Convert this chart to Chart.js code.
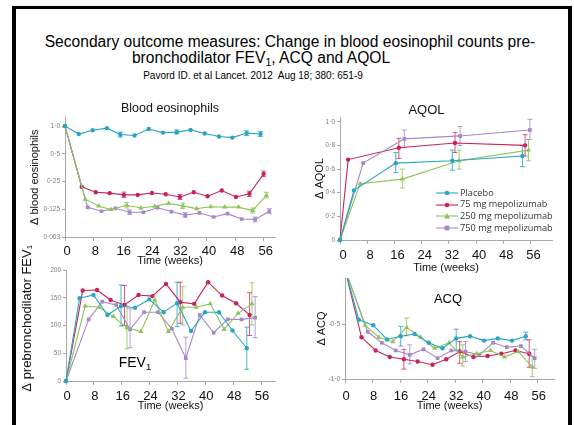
<!DOCTYPE html>
<html><head><meta charset="utf-8">
<script src="https://cdn.jsdelivr.net/npm/chart.js@4.4.1/dist/chart.umd.min.js"></script>
<style>
html,body{margin:0;padding:0;background:#fff;}
body{width:574px;height:425px;position:relative;overflow:hidden;font-family:"Liberation Sans",Arial,sans-serif;}
#frame{position:absolute;left:12px;top:6px;width:552px;height:440px;border-left:4px solid #000;border-top:3px solid #000;border-right:4px solid #000;}
.txt{position:absolute;white-space:nowrap;transform:translate(-50%,-50%);color:#000;line-height:1;}
.sub{position:relative;top:0.3em;font-size:0.68em;line-height:0;}
canvas{position:absolute;}
#legend{position:absolute;left:436px;top:186.5px;font-family:"Open Sans",sans-serif;font-size:9.2px;color:#333;}
#legend div{height:11.7px;line-height:11.7px;white-space:nowrap;}
#legend svg{vertical-align:middle;margin-right:2px;}
</style></head><body>
<div id="frame"></div>
<div class="txt" style="left:290px;top:42px;font-size:15.6px;">Secondary outcome measures: Change in blood eosinophil counts pre-</div>
<div class="txt" style="left:261px;top:58px;font-size:15.6px;">bronchodilator FEV<span class="sub">1</span>, ACQ and AQOL</div>
<div class="txt" style="left:253px;top:76px;font-size:10px;">Pavord ID. et al Lancet. 2012&nbsp; Aug 18; 380: 651-9</div>
<canvas id="c1" width="260" height="166" style="left:20px;top:102px;"></canvas>
<canvas id="c2" width="256" height="171" style="left:300px;top:104px;"></canvas>
<canvas id="c3" width="260" height="168" style="left:20px;top:245px;"></canvas>
<canvas id="c4" width="258" height="143" style="left:300px;top:270px;"></canvas>
<div class="txt" style="left:135px;top:362px;font-size:14px;">FEV<span class="sub">1</span></div>
<div class="txt" style="left:448px;top:298px;font-size:13px;">ACQ</div>
<div id="legend"></div>
<script>
// ---------- shared ----------
const seriesNames = ['Placebo', '75 mg mepolizumab', '250 mg mepolizumab', '750 mg mepolizumab'];
const weekTicks = [0, 8, 16, 24, 32, 40, 48, 56];

// ---------- Blood eosinophils (log scale) ----------
const eosTicks = [0.0625, 0.125, 0.25, 0.5, 1.0];
const eosTickLabels = ['0·063', '0·125', '0·25', '0·5', '1·0'];
const eosWeeksPlacebo = [0, 3.9, 7.8, 11.8, 15.6, 19.6, 23.6, 27.6, 31.5, 35.4, 39.4, 43.4, 47.2, 51.2, 55.1];
const eosPlacebo = [1.0, 0.82, 0.90, 0.95, 0.81, 0.79, 0.93, 0.85, 0.86, 0.91, 0.83, 0.77, 0.75, 0.84, 0.82];
const eosErrPlacebo = [null, null, null, null, [0.76, 0.86], null, null, null, [0.82, 0.91], null, null, null, null, [0.79, 0.89], [0.77, 0.87]];
const eosWeeks75 = [0, 4.7, 8.7, 12.6, 16.6, 20.5, 24.5, 28.4, 32.4, 36.3, 40.2, 44.2, 48.2, 52.0, 56.0];
const eos75 = [1.0, 0.219, 0.191, 0.187, 0.179, 0.179, 0.188, 0.182, 0.170, 0.191, 0.173, 0.200, 0.170, 0.184, 0.303];
const eosErr75 = [null, null, null, null, [0.168, 0.192], null, null, null, [0.160, 0.181], null, null, null, null, [0.172, 0.197], [0.283, 0.325]];
const eosWeeks250 = [0, 5.7, 9.5, 12.9, 17.4, 21.4, 25.3, 29.2, 33.2, 37.1, 41.1, 45.0, 48.9, 52.9, 56.8];
const eos250 = [1.0, 0.161, 0.136, 0.124, 0.138, 0.129, 0.135, 0.145, 0.136, 0.127, 0.133, 0.132, 0.132, 0.121, 0.178];
const eosErr250 = [null, null, null, null, [0.129, 0.148], null, null, null, [0.127, 0.146], null, null, null, null, [0.114, 0.129], [0.166, 0.191]];
const eosWeeks750 = [0, 6.4, 10.3, 14.2, 18.2, 22.1, 26.1, 30.0, 33.9, 37.9, 41.9, 45.8, 49.8, 53.6, 57.6];
const eos750 = [1.0, 0.131, 0.119, 0.128, 0.116, 0.116, 0.130, 0.118, 0.108, 0.114, 0.103, 0.112, 0.098, 0.097, 0.119];
const eosErr750 = [null, null, null, null, [0.110, 0.123], null, null, null, [0.102, 0.115], null, null, null, null, [0.091, 0.103], [0.112, 0.127]];

// ---------- AQOL ----------
const aqolTicks = [0, 0.2, 0.4, 0.6, 0.8, 1.0];
const aqolTickLabels = ['0', '0·2', '0·4', '0·6', '0·8', '1·0'];
const aqolWeeksPlacebo = [0, 4.1, 16.4, 33.0, 53.6];
const aqolPlacebo = [0, 0.42, 0.65, 0.67, 0.71];
const aqolErrPlacebo = [null, null, [0.57, 0.74], [0.59, 0.76], [0.62, 0.80]];
const aqolWeeks75 = [0, 2.4, 17.3, 33.8, 54.4];
const aqol75 = [0, 0.68, 0.78, 0.82, 0.80];
const aqolErr75 = [null, null, [0.69, 0.86], [0.74, 0.91], [0.71, 0.89]];
const aqolWeeks250 = [0, 5.9, 18.3, 35.0, 55.4];
const aqol250 = [0, 0.475, 0.515, 0.67, 0.76];
const aqolErr250 = [null, null, [0.44, 0.60], [0.60, 0.76], [0.67, 0.85]];
const aqolWeeks750 = [0, 6.8, 18.9, 35.3, 55.8];
const aqol750 = [0, 0.65, 0.855, 0.88, 0.93];
const aqolErr750 = [null, null, [0.78, 0.93], [0.80, 0.96], [0.85, 1.02]];

// ---------- FEV1 ----------
const fevTicks = [0, 50, 100, 150, 200];
const fevTickLabels = ['0', '50', '100', '150', '200'];
const fevWeeksPlacebo = [0, 3.9, 7.9, 11.9, 15.8, 19.8, 23.9, 28.0, 31.9, 35.9, 39.9, 43.9, 47.8, 51.9];
const fevPlacebo = [0, 149, 155, 119, 135, 132, 147, 124, 140, 90, 124, 124, 91, 59];
const fevErrPlacebo = [null, null, null, null, [99, 173], null, null, null, [98, 178], null, null, null, null, [21, 97]];
const fevWeeks75 = [0, 4.8, 8.9, 12.8, 16.8, 20.8, 24.8, 28.7, 32.8, 36.8, 40.8, 44.8, 48.8, 52.7];
const fev75 = [0, 163, 164, 146, 137, 155, 153, 175, 142, 139, 178, 154, 140, 119];
const fevErr75 = [null, null, null, null, [100, 172], null, null, null, [104, 178], null, null, null, null, [82, 159]];
const fevWeeks250 = [0, 5.5, 9.5, 13.6, 17.5, 21.5, 25.5, 29.4, 33.5, 37.4, 41.4, 45.4, 49.4, 53.4];
const fev250 = [0, 135, 133, 116, 96, 89, 146, 89, 133, 133, 139, 93, 122, 139];
const fevErr250 = [null, null, null, null, [58, 135], null, null, null, [101, 170], null, null, null, null, [101, 177]];
const fevWeeks750 = [0, 6.5, 10.4, 14.4, 18.4, 22.4, 26.4, 30.4, 34.4, 38.4, 42.4, 46.4, 50.4, 54.3];
const fev750 = [0, 111, 143, 137, 93, 124, 124, 94, 41, 119, 87, 111, 111, 114];
const fevErr750 = [null, null, null, null, [60, 130], null, null, null, [5, 79], null, null, null, null, [78, 152]];

// ---------- ACQ ----------
const acqTicks = [-1.0, -0.5];
const acqTickLabels = ['-1·0', '-0·5'];
const acqWeeksPlacebo = [0, 4.0, 8.2, 12.2, 16.2, 20.2, 24.3, 28.3, 32.3, 36.3, 40.4, 44.4, 48.5, 52.5];
const acqPlacebo = [0, -0.46, -0.51, -0.64, -0.61, -0.59, -0.67, -0.72, -0.63, -0.61, -0.65, -0.63, -0.65, -0.61];
const acqErrPlacebo = [null, null, null, null, [-0.70, -0.52], null, null, null, [-0.735, -0.546], null, null, null, null, [-0.643, -0.573]];
const acqWeeks75 = [0, 4.8, 8.9, 13.0, 17.1, 21.1, 25.4, 29.4, 33.3, 37.3, 41.4, 45.4, 49.5, 53.5];
const acq75 = [0, -0.62, -0.74, -0.80, -0.82, -0.84, -0.87, -0.82, -0.75, -0.80, -0.79, -0.77, -0.74, -0.77];
const acqErr75 = [null, null, null, null, [-0.91, -0.73], null, null, null, [-0.857, -0.659], null, null, null, null, [-0.893, -0.643]];
const acqWeeks250 = [0, 5.8, 9.8, 13.9, 17.9, 22.0, 26.0, 30.2, 34.2, 38.2, 42.3, 46.3, 50.3, 54.4];
const acq250 = [0, -0.51, -0.62, -0.66, -0.53, -0.62, -0.72, -0.67, -0.80, -0.77, -0.74, -0.80, -0.75, -0.89];
const acqErr250 = [null, null, null, null, [-0.607, -0.445], null, null, null, [-0.881, -0.689], null, null, null, null, [-0.979, -0.796]];
const acqWeeks750 = [0, 6.6, 10.7, 14.7, 18.8, 22.8, 26.9, 30.9, 35.0, 39.0, 43.0, 47.0, 51.1, 55.1];
const acq750 = [0, -0.57, -0.67, -0.74, -0.78, -0.73, -0.81, -0.74, -0.75, -0.78, -0.67, -0.71, -0.70, -0.81];
const acqErr750 = [null, null, null, null, [-0.862, -0.689], null, null, null, [-0.841, -0.659], null, null, null, null, [-0.902, -0.729]];

// ---------- styling ----------
const COLORS = ['#2aa5c3', '#c8235a', '#8fc45a', '#a587cc'];
const ERRCOL = ['rgba(42,165,195,0.85)', 'rgba(200,35,90,0.75)', 'rgba(143,196,90,0.85)', 'rgba(165,135,204,0.8)'];
const PSTYLE = ['circle', 'circle', 'triangle', 'rect'];
const PRAD = [2.2, 2.2, 3.0, 2.6];
const FONT = '"Liberation Sans", Arial, sans-serif';
const DRAW_ORDER = [0, 2, 3, 1];

const errorBarPlugin = {
  id: 'errbars',
  beforeDatasetsDraw(chart) {
    const {ctx, chartArea, scales} = chart;
    const x = scales.x, y = scales.y;
    ctx.save();
    ctx.beginPath();
    ctx.rect(chartArea.left - 5, chartArea.top - 8, chartArea.width + 10, chartArea.height + 8);
    ctx.clip();
    chart.data.datasets.forEach(ds => {
      if (!ds.errorBars) return;
      ctx.strokeStyle = ds.errColor;
      ctx.lineWidth = 1;
      ds.errorBars.forEach((e, j) => {
        if (!e) return;
        const px = x.getPixelForValue(ds.data[j].x);
        const lo = y.getPixelForValue(e[0]), hi = y.getPixelForValue(e[1]);
        ctx.beginPath();
        ctx.moveTo(px, lo); ctx.lineTo(px, hi);
        ctx.moveTo(px - 2.5, lo); ctx.lineTo(px + 2.5, lo);
        ctx.moveTo(px - 2.5, hi); ctx.lineTo(px + 2.5, hi);
        ctx.stroke();
      });
    });
    ctx.restore();
  }
};

function makeDatasets(weeksList, valuesList, errList, clip) {
  return DRAW_ORDER.map(i => ({
    label: seriesNames[i],
    data: weeksList[i].map((w, j) => ({x: w, y: valuesList[i][j]})),
    errorBars: errList[i],
    errColor: ERRCOL[i],
    borderColor: COLORS[i],
    backgroundColor: COLORS[i],
    borderWidth: 1.1,
    pointStyle: PSTYLE[i],
    pointRadius: PRAD[i],
    pointBorderWidth: 0,
    tension: 0,
    clip: clip
  }));
}

function panel(id, o) {
  const xAxis = {
    type: 'linear', min: 0, max: o.xMax,
    afterBuildTicks: s => { s.ticks = weekTicks.map(v => ({value: v})); },
    afterFit: s => { s.height = o.xH; },
    grid: {display: true, drawOnChartArea: false, drawTicks: true, tickLength: 4, color: '#a8a8a8'},
    border: {display: true, color: '#a8a8a8', width: 1},
    ticks: {padding: o.xPad, color: '#111', font: {family: FONT, size: 13}, labelOffset: o.labelOffset,
            maxRotation: 0, autoSkip: false, callback: v => String(v)},
    title: {display: true, text: 'Time (weeks)', color: '#111', font: {family: FONT, size: 11}, padding: {top: 0, bottom: 0}}
  };
  const yAxis = Object.assign({
    afterBuildTicks: s => { s.ticks = o.yTicks.map(v => ({value: v})); },
    afterFit: s => { s.width = o.yW; },
    grid: {display: true, drawOnChartArea: false, drawTicks: true, tickLength: 3, color: '#a8a8a8'},
    border: {display: true, color: '#a8a8a8', width: 1},
    ticks: {padding: 2, color: '#808080', font: {family: FONT, size: 6.5}, autoSkip: false,
            callback: (v, i) => o.yLabels[i]},
    title: {display: true, text: o.yTitle, color: '#111', font: {family: FONT, size: o.yTitleSize || 11}, padding: {top: o.yTitlePad, bottom: 0}}
  }, o.yScale);
  new Chart(document.getElementById(id), {
    type: 'line',
    data: {datasets: o.datasets},
    options: {
      responsive: false, animation: false, devicePixelRatio: 1,
      layout: {padding: {left: 0, right: o.rightPad, top: o.topPad, bottom: 0}},
      plugins: {
        legend: {display: false}, tooltip: {enabled: false},
        title: o.title ? Object.assign({display: true, color: '#111', font: {family: FONT, size: o.titleSize, lineHeight: 1, weight: 'normal'}}, o.title) : {display: false}
      },
      scales: {x: xAxis, y: yAxis}
    },
    plugins: [errorBarPlugin]
  });
}

// Panel 1: blood eosinophils
panel('c1', {
  datasets: makeDatasets([eosWeeksPlacebo, eosWeeks75, eosWeeks250, eosWeeks750], [eosPlacebo, eos75, eos250, eos750],
                         [eosErrPlacebo, eosErr75, eosErr250, eosErr750], 8),
  xMax: 59.2, xH: 31, xPad: 2.2, labelOffset: 2, yW: 45, rightPad: 5, topPad: 0,
  yScale: {type: 'logarithmic', min: 0.0625, max: 1.24},
  yTicks: eosTicks, yLabels: eosTickLabels, yTitle: 'Δ blood eosinophils', yTitlePad: 8.4,
  title: {text: 'Blood eosinophils', fullSize: false, padding: {top: 0, bottom: 3}}, titleSize: 12.5
});

// Panel 2: AQOL
panel('c2', {
  datasets: makeDatasets([aqolWeeksPlacebo, aqolWeeks75, aqolWeeks250, aqolWeeks750], [aqolPlacebo, aqol75, aqol250, aqol750],
                         [aqolErrPlacebo, aqolErr75, aqolErr250, aqolErr750], 8),
  xMax: 62.3, xH: 35, xPad: 3.2, labelOffset: 3, yW: 40, rightPad: 3, topPad: 0,
  yScale: {type: 'linear', min: 0, max: 1.04},
  yTicks: aqolTicks, yLabels: aqolTickLabels, yTitle: 'Δ AQOL', yTitlePad: 13.4,
  title: {text: 'AQOL', fullSize: true, padding: {top: 0, bottom: 0}}, titleSize: 13
});

// Panel 3: FEV1
panel('c3', {
  datasets: makeDatasets([fevWeeksPlacebo, fevWeeks75, fevWeeks250, fevWeeks750], [fevPlacebo, fev75, fev250, fev750],
                         [fevErrPlacebo, fevErr75, fevErr250, fevErr750], 8),
  xMax: 60, xH: 32, xPad: 3.9, labelOffset: 1, yW: 46, rightPad: 5, topPad: 25,
  yScale: {type: 'linear', min: 0, max: 200},
  yTicks: fevTicks, yLabels: fevTickLabels, yTitle: '    Δ prebronchodilator FEV₁', yTitlePad: 0, yTitleSize: 13,
  title: null
});

// Panel 4: ACQ
panel('c4', {
  datasets: makeDatasets([acqWeeksPlacebo, acqWeeks75, acqWeeks250, acqWeeks750], [acqPlacebo, acq75, acq250, acq750],
                         [acqErrPlacebo, acqErr75, acqErr250, acqErr750], {top: 0, left: 8, right: 8, bottom: 8}),
  xMax: 60.7, xH: 34, xPad: 5.9, labelOffset: 1, yW: 45, rightPad: 3, topPad: 8,
  yScale: {type: 'linear', min: -1.0, max: -0.08},
  yTicks: acqTicks, yLabels: acqTickLabels, yTitle: 'Δ ACQ', yTitlePad: 15.4,
  title: null
});

// Legend (AQOL panel)
const legendEl = document.getElementById('legend');
seriesNames.forEach((name, i) => {
  const c = COLORS[i];
  let marker;
  if (PSTYLE[i] === 'circle') marker = `<circle cx="11" cy="4" r="2.3" fill="${c}"/>`;
  else if (PSTYLE[i] === 'triangle') marker = `<polygon points="11,1 14,6.5 8,6.5" fill="${c}"/>`;
  else marker = `<rect x="8.6" y="1.6" width="4.8" height="4.8" fill="${c}"/>`;
  const row = document.createElement('div');
  row.innerHTML = `<svg width="22" height="8"><line x1="0" y1="4" x2="22" y2="4" stroke="${c}" stroke-width="1.1"/>${marker}</svg>${name}`;
  legendEl.appendChild(row);
});
</script>
</body></html>
